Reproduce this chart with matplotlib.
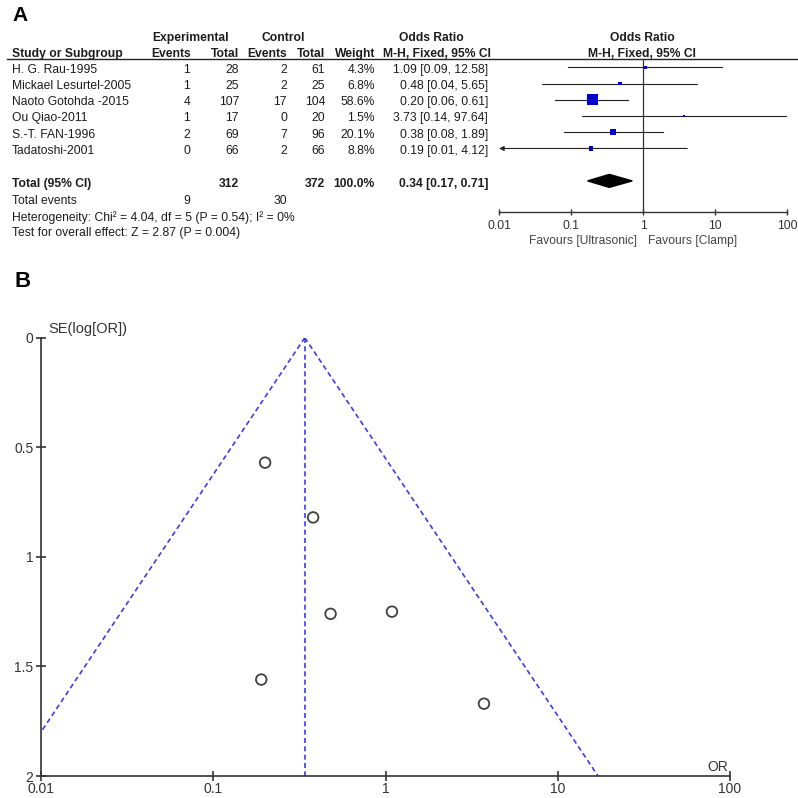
import numpy as np
import matplotlib
matplotlib.use("Agg")
import matplotlib.pyplot as plt

plt.rcParams['font.family'] = ['Liberation Sans', 'DejaVu Sans']

# forest plot data
studies = ["H. G. Rau-1995", "Mickael Lesurtel-2005", "Naoto Gotohda -2015",
           "Ou Qiao-2011", "S.-T. FAN-1996", "Tadatoshi-2001"]
exp_events = [1, 1, 4, 1, 2, 0]
exp_total = [28, 25, 107, 17, 69, 66]
ctrl_events = [2, 2, 17, 0, 7, 2]
ctrl_total = [61, 25, 104, 20, 96, 66]
weight = [4.3, 6.8, 58.6, 1.5, 20.1, 8.8]
odds = [1.09, 0.48, 0.20, 3.73, 0.38, 0.19]
ci_low = [0.09, 0.04, 0.06, 0.14, 0.08, 0.01]
ci_high = [12.58, 5.65, 0.61, 97.64, 1.89, 4.12]

pooled_or, pooled_low, pooled_high = 0.34, 0.17, 0.71
total_exp, total_ctrl, total_weight = 312, 372, 100.0
events_exp, events_ctrl = 9, 30
het_text = "Heterogeneity: Chi\u00b2 = 4.04, df = 5 (P = 0.54); I\u00b2 = 0%"
effect_text = "Test for overall effect: Z = 2.87 (P = 0.004)"

# funnel plot: SE(log OR)
funnel_se = [1.25, 1.26, 0.57, 1.67, 0.82, 1.56]

or_ticks = [0.01, 0.1, 1, 10, 100]
or_labels = ["0.01", "0.1", "1", "10", "100"]
se_ticks = [0, 0.5, 1, 1.5, 2]
se_labels = ["0", "0.5", "1", "1.5", "2"]

W = 798.0
def fx(px):
    return px / W
def fy(py):
    return 1 - py / W

txt = '#1c1c1c'
fs = 8.7
fig = plt.figure(figsize=(7.98, 7.98), dpi=100)

# ---------- panel A ----------
fig.text(fx(12), fy(21), "A", fontsize=15, fontweight='bold', va='baseline', color='black')

top_px, bot_px = 59.3, 211.7
ylim = (8.9, -0.5)
tab = fig.add_axes([0, fy(bot_px), 1, fy(top_px) - fy(bot_px)])
tab.set_xlim(0, W)
tab.set_ylim(*ylim)
tab.axis('off')

def t(x, y, s, ha='right', bold=False, color=txt):
    tab.text(x, y, s, ha=ha, va='baseline', fontsize=fs, color=color,
             fontweight='bold' if bold else 'normal', clip_on=False)

# headers
h1, h2 = -1.65, -0.66
t(191, h1, "Experimental", ha='center', bold=True)
t(283, h1, "Control", ha='center', bold=True)
t(431, h1, "Odds Ratio", ha='center', bold=True)
t(642, h1, "Odds Ratio", ha='center', bold=True)
t(12, h2, "Study or Subgroup", ha='left', bold=True)
t(191, h2, "Events", bold=True)
t(239, h2, "Total", bold=True)
t(287, h2, "Events", bold=True)
t(325, h2, "Total", bold=True)
t(375, h2, "Weight", bold=True)
t(437, h2, "M-H, Fixed, 95% CI", ha='center', bold=True)
t(642, h2, "M-H, Fixed, 95% CI", ha='center', bold=True)
tab.plot([7, W], [-0.5, -0.5], color='#222222', lw=1.0, clip_on=False)

rows = np.arange(len(studies))
for i in rows:
    y = i + 0.33
    t(12, y, studies[i], ha='left')
    t(190, y, str(exp_events[i]))
    t(239, y, str(exp_total[i]))
    t(287, y, str(ctrl_events[i]))
    t(325, y, str(ctrl_total[i]))
    t(375, y, f"{weight[i]:.1f}%")
    t(488, y, f"{odds[i]:.2f} [{ci_low[i]:.2f}, {ci_high[i]:.2f}]")

total_row = len(studies) + 1
yt = total_row + 0.38
t(12, yt, "Total (95% CI)", ha='left', bold=True)
t(239, yt, str(total_exp), bold=True)
t(325, yt, str(total_ctrl), bold=True)
t(375, yt, f"{total_weight:.1f}%", bold=True)
t(488, yt, f"{pooled_or:.2f} [{pooled_low:.2f}, {pooled_high:.2f}]", bold=True)
t(12, 8.43, "Total events", ha='left')
t(190, 8.43, str(events_exp))
t(287, 8.43, str(events_ctrl))
t(12, 9.45, het_text, ha='left')
t(12, 10.4, effect_text, ha='left')

fa = fig.add_axes([fx(499), fy(bot_px), fx(787) - fx(499), fy(top_px) - fy(bot_px)])
fa.patch.set_visible(False)
fa.set_xscale('log')
fa.set_xlim(0.01, 100)
fa.set_ylim(*ylim)
for s in ['top', 'left', 'right']:
    fa.spines[s].set_visible(False)
fa.spines['bottom'].set_color('#333333')
fa.spines['bottom'].set_linewidth(1.0)
fa.set_yticks([])
fa.set_xticks(or_ticks)
fa.set_xticklabels(or_labels)
fa.minorticks_off()
fa.tick_params(axis='x', direction='inout', length=4.5, width=1.0, color='#333333',
               labelsize=fs, labelcolor='#333333', pad=3.5)
fa.axvline(1, color='#333333', lw=0.9, zorder=1)

for i in rows:
    if ci_low[i] <= 0.01:
        fa.annotate('', xy=(0.01, i), xytext=(ci_high[i], i),
                    arrowprops=dict(arrowstyle='-|>', color='#222222', lw=0.8,
                                    mutation_scale=7, shrinkA=0, shrinkB=0))
    else:
        fa.plot([ci_low[i], ci_high[i]], [i, i], color='#222222', lw=0.8, zorder=2)
side_pt = np.maximum(1.44 * np.sqrt(weight) * 0.72, 1.6)
fa.scatter(odds, rows, marker='s', s=side_pt ** 2, color='#0000cc', linewidths=0, zorder=3)
fa.fill([pooled_low, pooled_or, pooled_high, pooled_or],
        [total_row, total_row - 0.4, total_row, total_row + 0.4], color='black', zorder=3)

fa.annotate("Favours [Ultrasonic]", xy=(1, 0), xycoords=fa.get_xaxis_transform(),
            xytext=(-4.3, -23.3), textcoords='offset points', ha='right', va='baseline',
            fontsize=fs, color='#444444')
fa.annotate("Favours [Clamp]", xy=(1, 0), xycoords=fa.get_xaxis_transform(),
            xytext=(3.6, -23.3), textcoords='offset points', ha='left', va='baseline',
            fontsize=fs, color='#444444')

# ---------- panel B ----------
fig.text(fx(15), fy(286.7), "B", fontsize=16, fontweight='bold', va='baseline', color='black')

ax = fig.add_axes([fx(41), fy(776), fx(730) - fx(41), fy(337.7) - fy(776)])
ax.set_xscale('log')
ax.set_xlim(0.01, 100)
ax.set_ylim(2, 0)
for s in ['top', 'right']:
    ax.spines[s].set_visible(False)
for s in ['left', 'bottom']:
    ax.spines[s].set_color('#333333')
    ax.spines[s].set_linewidth(1.2)
ax.set_xticks(or_ticks)
ax.set_xticklabels(or_labels)
ax.set_yticks(se_ticks)
ax.set_yticklabels(se_labels)
ax.minorticks_off()
ax.tick_params(direction='inout', length=7, width=1.2, color='#333333',
               labelsize=10, labelcolor='#333333')
ax.tick_params(axis='x', pad=0.5)
ax.tick_params(axis='y', pad=2)

se_ends = np.array([0, 2])
blue = '#3c3ce8'
dash = (0, (3, 2))
ax.plot(pooled_or * np.exp(-1.96 * se_ends), se_ends, color=blue, lw=1.2, ls=dash)
ax.plot(pooled_or * np.exp(1.96 * se_ends), se_ends, color=blue, lw=1.2, ls=dash)
ax.plot([pooled_or, pooled_or], se_ends, color=blue, lw=1.2, ls=dash)

ax.scatter(odds, funnel_se, s=58, facecolors='none', edgecolors='#404040',
           linewidths=1.3, zorder=3)

ax.annotate("SE(log[OR])", xy=(0.01, 0), xytext=(5, 3.4), textcoords='offset points',
            ha='left', va='baseline', fontsize=10.5, color='#333333', annotation_clip=False)
ax.annotate("OR", xy=(100, 2), xytext=(-1.5, 3.8), textcoords='offset points',
            ha='right', va='baseline', fontsize=10, color='#333333', annotation_clip=False)

fig.savefig("out.png", dpi=100)
